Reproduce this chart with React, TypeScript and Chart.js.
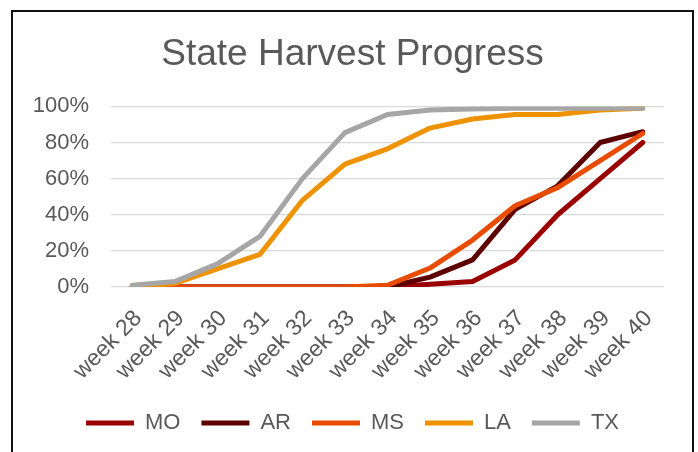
import React, { useEffect, useRef } from "react";
import { Chart, registerables } from "chart.js";

Chart.register(...registerables);

const weeks = ["week 28", "week 29", "week 30", "week 31", "week 32", "week 33", "week 34", "week 35", "week 36", "week 37", "week 38", "week 39", "week 40"];
const moValues = [0, 0, 0, 0, 0, 0, 0, 1.5, 3, 15, 40, 60, 80];
const arValues = [0, 0, 0, 0, 0, 0, 0, 5.5, 15, 43, 56, 80, 86];
const msValues = [0, 0, 0, 0, 0, 0, 1, 10.5, 26, 45, 55, 70, 85];
const laValues = [0, 2, 10, 18, 48, 68, 76.5, 88, 93, 95.5, 95.5, 98, 99];
const txValues = [1, 3, 12.8, 28, 60, 85.5, 95.5, 98, 98.5, 99, 99, 99, 99];
const yTicks = [0, 20, 40, 60, 80, 100];

const FONT = "'Liberation Sans', Arial, sans-serif";
const TEXT = "#595959";

export default function App() {
  const ref = useRef<HTMLCanvasElement>(null);
  useEffect(() => {
    const mk = (label: string, data: number[], color: string, order: number) => ({
      label,
      data,
      borderColor: color,
      backgroundColor: color,
      borderWidth: 5,
      borderCapStyle: "round" as const,
      borderJoinStyle: "round" as const,
      pointRadius: 0,
      pointHoverRadius: 0,
      tension: 0,
      fill: false,
      order,
      yAxisID: "y",
    });
    const chart = new Chart(ref.current!, {
      type: "line",
      data: {
        labels: weeks,
        datasets: [
          mk("MO", moValues, "#9A0000", 5),
          mk("AR", arValues, "#5C0000", 4),
          mk("MS", msValues, "#E84C00", 3),
          mk("LA", laValues, "#EE9200", 2),
          mk("TX", txValues, "#A6A6A6", 1),
        ],
      },
      options: {
        responsive: false,
        animation: false,
        layout: { padding: { left: 0, right: 0, top: 0, bottom: 8 } },
        plugins: {
          tooltip: { enabled: false },
          title: {
            display: true,
            text: "State Harvest Progress",
            color: TEXT,
            font: { family: FONT, size: 37, weight: "normal", lineHeight: 1.2 },
            padding: { top: 21, bottom: 29 },
          },
          legend: {
            position: "bottom",
            labels: {
              usePointStyle: true,
              pointStyle: "line",
              pointStyleWidth: 48,
              color: TEXT,
              font: { family: FONT, size: 22 },
              padding: 21,
              sort: (a: any, b: any) => a.datasetIndex - b.datasetIndex,
            },
          },
        },
        scales: {
          x: {
            offset: true,
            grid: { display: false },
            border: { display: false },
            afterFit: (scale: any) => {
              scale.height = 104;
            },
            ticks: {
              color: TEXT,
              font: { family: FONT, size: 23 },
              maxRotation: 45,
              minRotation: 45,
              autoSkip: false,
              padding: 10,
              labelOffset: 6,
            },
          },
          y: {
            min: 0,
            max: 100,
            afterBuildTicks: (scale: any) => {
              scale.ticks = yTicks.map((v) => ({ value: v }));
            },
            afterFit: (scale: any) => {
              scale.width = 98;
            },
            grid: { color: "#D9D9D9", lineWidth: 1.3, drawTicks: false },
            border: { display: false },
            ticks: {
              color: TEXT,
              font: { family: FONT, size: 22 },
              padding: 22,
              callback: (v: any) => v + "%",
            },
          },
          yRight: {
            type: "linear",
            position: "right",
            display: true,
            grid: { display: false, drawTicks: false },
            border: { display: false },
            ticks: { display: false },
            afterFit: (scale: any) => {
              scale.width = 28;
            },
          },
        },
      },
    });
    return () => chart.destroy();
  }, []);
  return (
    <div
      style={{
        position: "absolute",
        left: 11,
        top: 10,
        width: 679,
        height: 440,
        borderTop: "2px solid #111",
        borderLeft: "2px solid #111",
        borderRight: "2px solid #111",
      }}
    >
      <canvas ref={ref} width={679} height={440} style={{ display: "block", width: 679, height: 440 }} />
    </div>
  );
}
